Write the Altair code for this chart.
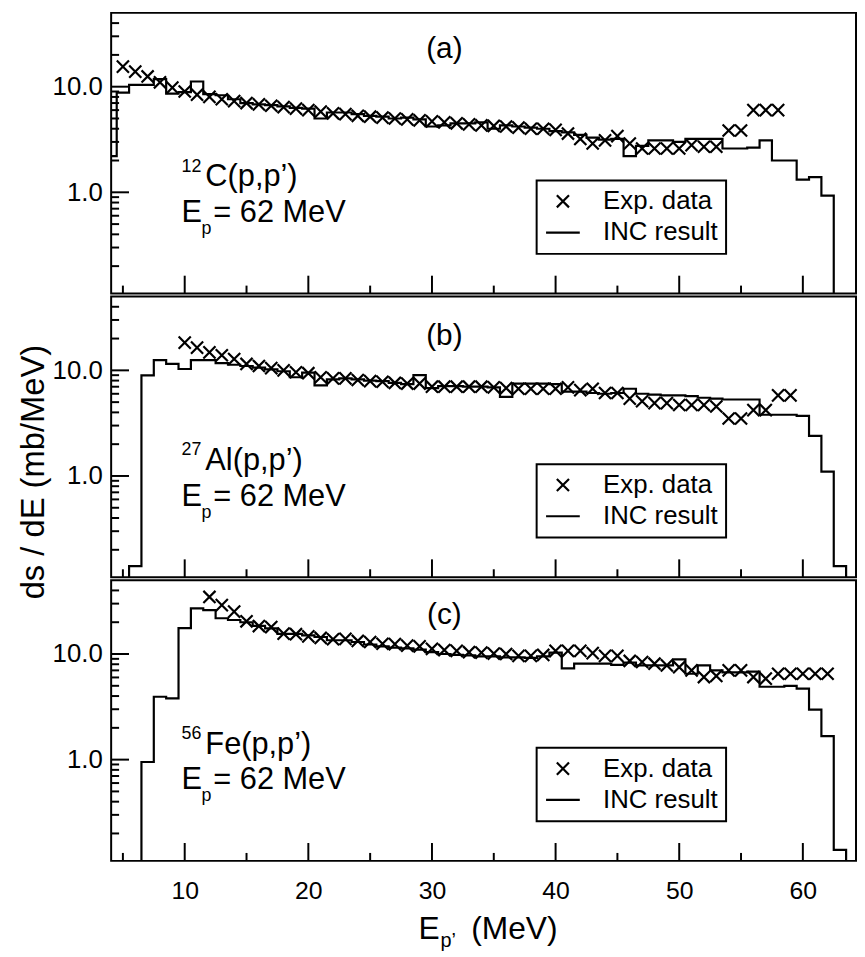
import altair as alt
import pandas as pd

FONT = "Liberation Sans"
W, H = 751, 283
X_DOMAIN = [4.05, 64.3]
Y_DOMAIN = [0.11, 50]
X_MAJOR = [10, 20, 30, 40, 50, 60]
X_MINOR = [5, 15, 25, 35, 45, 55]
Y_MAJOR = [1, 10]
Y_MINOR = [0.2, 0.3, 0.4, 0.5, 0.6, 0.7, 0.8, 0.9, 2, 3, 4, 5, 6, 7, 8, 9, 20, 30, 40]
SERIES = ["Exp. data", "INC result"]

# ---- (a) 12C(p,p') ----
a_hist_E = list(range(4, 63))
a_hist_v = [2.2, 8.8, 10.4, 10.4, 11.8, 8.6, 8.9, 11.2, 8.5, 8.3,
            7.6, 7.0, 6.8, 6.7, 6.5, 6.3, 6.2, 5.0, 5.7, 5.7,
            5.5, 5.3, 5.2, 5.0, 5.1, 4.9, 4.2, 4.3, 4.5, 4.5,
            4.6, 4.0, 4.3, 4.2, 4.1, 4.0, 3.8, 3.7, 3.5, 3.3,
            3.15, 3.2, 2.2, 2.75, 3.1, 3.1, 3.0, 3.2, 3.2, 3.2,
            2.6, 2.6, 2.65, 3.1, 2.0, 2.0, 1.32, 1.39, 0.93]
a_exp_E = list(range(5, 59))
a_exp_v = [15.5, 13.9, 12.5, 11.0, 9.8, 9.0, 8.4, 8.0, 7.6, 7.3,
           7.0, 6.8, 6.6, 6.4, 6.2, 6.0, 5.8, 5.6, 5.5, 5.3,
           5.2, 5.1, 5.0, 4.9, 4.8, 4.7, 4.6, 4.5, 4.4, 4.3,
           4.25, 4.2, 4.1, 4.0, 4.0, 3.9, 3.6, 3.2, 2.9, 3.1,
           3.4, 2.9, 2.6, 2.6, 2.6, 2.6, 2.8, 2.7, 2.7, 3.85,
           3.85, 6.0, 6.0, 6.0]

# ---- (b) 27Al(p,p') ----
b_hist_E = list(range(5, 64))
b_hist_v = [0, 0.14, 8.96, 12.5, 11.5, 10.3, 12.5, 12.5, 11.7, 11.3,
            11.0, 10.6, 10.2, 9.8, 8.6, 9.5, 7.2, 8.2, 8.4, 8.2,
            8.0, 7.9, 7.6, 7.4, 9.0, 6.8, 7.1, 7.1, 7.0, 7.0,
            6.9, 5.6, 7.5, 7.5, 7.5, 7.4, 6.3, 6.3, 6.1, 6.0,
            6.1, 6.7, 6.0, 5.9, 5.8, 5.8, 5.7, 5.5, 5.4, 5.3,
            5.3, 5.3, 3.8, 3.8, 3.8, 3.7, 2.4, 1.1, 0.14]
b_exp_E = list(range(10, 60))
b_exp_v = [18.3, 16.4, 14.8, 13.9, 12.8, 11.5, 11.0, 10.5, 10.0, 9.6,
           9.4, 8.6, 8.4, 8.4, 8.1, 7.9, 7.8, 7.6, 7.5, 7.5,
           7.0, 7.0, 7.0, 7.0, 7.0, 6.9, 6.8, 6.7, 6.7, 6.7,
           6.7, 6.9, 6.5, 6.7, 6.1, 6.1, 5.4, 5.1, 4.9, 4.9,
           4.7, 4.7, 4.7, 4.55, 3.5, 3.5, 4.2, 4.2, 5.8, 5.8]

# ---- (c) 56Fe(p,p') ----
c_hist_E = list(range(6, 64))
c_hist_v = [0, 0.95, 3.94, 3.8, 17.6, 27.0, 26.0, 21.8, 21.0, 20.0,
            18.5, 17.5, 15.5, 15.5, 15.0, 14.5, 13.5, 13.5, 13.0, 12.3,
            11.8, 11.5, 11.3, 11.0, 10.4, 10.0, 9.8, 9.7, 9.5, 9.5,
            9.3, 9.3, 9.2, 9.5, 10.3, 7.3, 8.1, 8.1, 8.1, 7.9,
            8.3, 7.8, 7.8, 7.8, 8.9, 6.5, 7.8, 7.0, 6.7, 6.7,
            6.8, 4.9, 4.9, 5.0, 4.7, 2.97, 1.67, 0.14]
c_exp_E = list(range(12, 63))
c_exp_v = [34.7, 29.0, 25.2, 20.4, 18.4, 18.0, 15.6, 15.4, 14.7, 14.2,
           13.8, 13.9, 13.3, 13.0, 12.5, 12.4, 12.0, 11.8, 11.2, 10.9,
           10.7, 10.4, 10.3, 10.1, 10.0, 9.6, 9.6, 9.8, 10.7, 10.7,
           10.7, 10.2, 9.6, 9.6, 8.6, 8.4, 8.1, 7.8, 7.5, 7.0,
           6.05, 6.2, 7.0, 7.0, 6.05, 5.85, 6.5, 6.5, 6.5, 6.5, 6.5]

X_PATH = "M-1,-1L1,1M-1,1L1,-1"
FLOOR = 0.01  # empty bins sit below the axis


def hist_frame(centers, values):
    edges = [c - 0.5 for c in centers] + [centers[-1] + 0.5]
    vals = [v if v > 0 else FLOOR for v in values] + [FLOOR]
    return pd.DataFrame({"E": edges, "v": vals})


def text(label, x, y, size, align="left", baseline="alphabetic"):
    return alt.Chart(alt.Data(values=[{}])).mark_text(
        font=FONT, fontSize=size, align=align, baseline=baseline, color="black"
    ).encode(x=alt.value(x), y=alt.value(y), text=alt.value(label))


def x_ticks(values, length, xs):
    return alt.Chart(pd.DataFrame({"t": values})).mark_rule(
        color="black", strokeWidth=2
    ).encode(x=alt.X("t:Q", scale=xs, axis=None),
             y=alt.value(H), y2=alt.value(H - length))


def y_ticks(values, length, ys):
    return alt.Chart(pd.DataFrame({"t": values})).mark_rule(
        color="black", strokeWidth=2
    ).encode(y=alt.Y("t:Q", scale=ys, axis=None),
             x=alt.value(0), x2=alt.value(length))


def panel(hc, hv, ee, ev, tag, tag_y, sup, nucl, bottom=False):
    hist = hist_frame(hc, hv)
    exp = pd.DataFrame({"E": ee, "v": ev, "series": SERIES[0]})
    xs = alt.Scale(domain=X_DOMAIN, nice=False, zero=False)
    ys = alt.Scale(type="log", domain=Y_DOMAIN, nice=False)

    yax = alt.Axis(orient="left", values=Y_MAJOR, format=".1f", ticks=False,
                   tickSize=0, domain=False, grid=False, labelPadding=9,
                   labelFontSize=26, labelFont=FONT, labelColor="black",
                   title=None)
    if bottom:
        xax = alt.Axis(orient="bottom", values=X_MAJOR, ticks=False, tickSize=0,
                       domain=False, grid=False, labelPadding=18, labelFontSize=25,
                       labelFont=FONT, labelColor="black", title=None)
    else:
        xax = None

    line = alt.Chart(hist).mark_line(
        interpolate="step-after", color="black", strokeWidth=2.2, clip=True
    ).encode(
        x=alt.X("E:Q", scale=xs, axis=xax),
        y=alt.Y("v:Q", scale=ys, axis=yax),
    )

    leg = alt.Legend(orient="none", legendX=429, legendY=169, title=None,
                     labelFontSize=26, labelFont=FONT, labelColor="black",
                     padding=8, labelOffset=22, rowPadding=0,
                     strokeColor="black", fillColor="white",
                     symbolStrokeWidth=2.2, symbolStrokeColor="black")
    pts = alt.Chart(exp).mark_point(
        filled=False, color="black", strokeWidth=2.2, opacity=1, clip=True
    ).encode(
        x=alt.X("E:Q", scale=xs, axis=None),
        y=alt.Y("v:Q", scale=ys, axis=None),
        shape=alt.Shape("series:N", scale=alt.Scale(domain=SERIES, range=[X_PATH, "stroke"]), legend=leg),
        size=alt.Size("series:N", scale=alt.Scale(domain=SERIES, range=[150, 1156]), legend=leg),
    )

    ticks = [
        x_ticks(X_MAJOR, 18, xs),
        x_ticks(X_MINOR, 8, xs),
        y_ticks(Y_MAJOR, 18, ys),
        y_ticks(Y_MINOR, 8, ys),
    ]

    texts = [
        text(tag, 336, tag_y, 30, align="center", baseline="middle"),
        text(sup, 71, 160, 18),
        text(nucl, 95, 175, 31),
        text("E", 71, 211, 31),
        text("p", 91, 223, 18),
        text("= 62 MeV", 103, 211, 31),
    ]
    if bottom:
        texts += [
            text("E", 310, 362, 32),
            text("p’", 332, 370, 20),
            text("(MeV)", 363, 362, 32),
        ]

    return alt.layer(line, pts, *ticks, *texts).resolve_axis(
        x="independent", y="independent"
    ).properties(width=W, height=H)


pa = panel(a_hist_E, a_hist_v, a_exp_E, a_exp_v, "(a)", 36, "12", "C(p,p’)")
pb = panel(b_hist_E, b_hist_v, b_exp_E, b_exp_v, "(b)", 40, "27", "Al(p,p’)")
pc = panel(c_hist_E, c_hist_v, c_exp_E, c_exp_v, "(c)", 35, "56", "Fe(p,p’)", bottom=True)

# rotated title: dx moves it along its reading direction (upwards)
ytitle = alt.TitleParams(
    text="ds / dE (mb/MeV)", orient="left", anchor="middle", angle=270,
    font=FONT, fontSize=33, fontWeight="normal", color="black", offset=0, dx=10,
)

chart = alt.vconcat(pa, pb, pc, spacing=0, title=ytitle).resolve_scale(
    shape="independent", size="independent"
).resolve_legend(
    shape="independent", size="independent"
).properties(
    padding={"left": 10, "top": 0, "right": 0, "bottom": 0}
).configure_view(
    stroke="black", strokeWidth=2
).configure_legend(
    strokeWidth=2
)

chart.save("out.html", embed_options={"renderer": "svg", "actions": False})
